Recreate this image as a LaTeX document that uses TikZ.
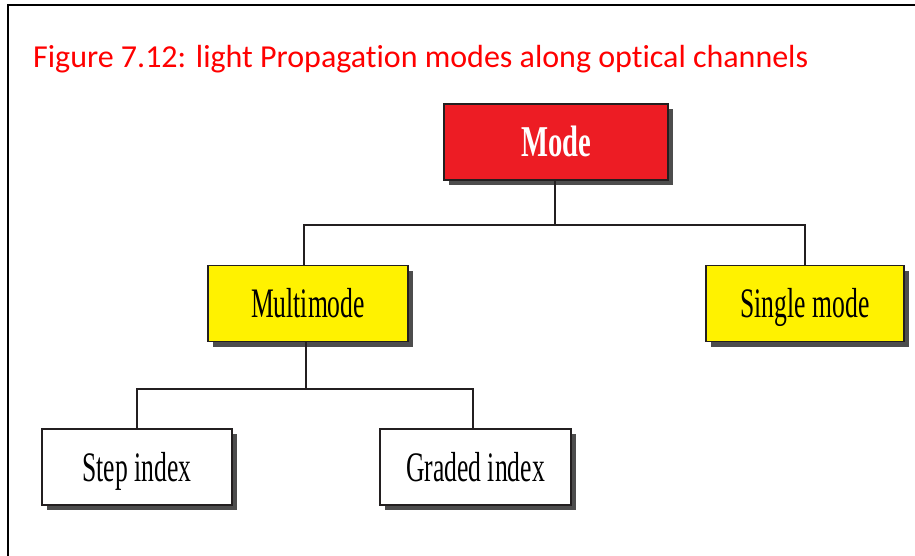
\documentclass[tikz,border=0pt]{standalone}
\usepackage{fontspec}
\setmainfont{Liberation Serif}
\newfontfamily\captionfont[Ligatures={NoCommon}]{Carlito}
\usetikzlibrary{shadows}

\definecolor{modered}{HTML}{ED1C24}
\definecolor{modeyellow}{HTML}{FFF200}
\definecolor{inkline}{HTML}{231F20}
\definecolor{shadowgray}{HTML}{4D4D4D}
\definecolor{captionred}{HTML}{FF0000}

\tikzset{
  treebox/.style={draw=inkline, line width=1.6pt, minimum height=76pt,
    inner sep=0pt, text height=28pt, text depth=0pt,
    font=\fontsize{42}{46}\selectfont,
    drop shadow={shadow xshift=5pt, shadow yshift=-5pt, fill=shadowgray, opacity=1}},
  topbox/.style={treebox, fill=modered, text=white, text height=29pt,
    font=\fontsize{44}{48}\selectfont\bfseries},
  midbox/.style={treebox, fill=modeyellow},
  leafbox/.style={treebox, fill=white},
  link/.style={draw=inkline, line width=2pt}
}
\newcommand{\narrow}[2][0.61]{\scalebox{#1}[1]{#2}}

\begin{document}
\begin{tikzpicture}[x=1pt, y=-1pt]
  \useasboundingbox (0,0) rectangle (915,556);
  \fill[white] (0,0) rectangle (915,556);

  % page frame (open on the right and bottom)
  \draw[black, line width=2pt] (8,556) -- (8,5.5) -- (915,5.5);

  % caption
  \node[anchor=base west, inner sep=0pt, text=captionred,
        font=\captionfont\fontsize{32}{37}\selectfont] (caption) at (33,68)
    {Figure 7.12: light Propagation modes along optical channels};

  % tree of modes
  \node[topbox, minimum width=224pt] (mode) at (556,142) {\narrow[0.65]{Mode}};
  \node[midbox, minimum width=200pt] (multi) at (308,303.5) {\narrow{Multimode}};
  \node[midbox, minimum width=198pt] (single) at (805,303.5) {\narrow{Single mode}};
  \node[leafbox, minimum width=190pt] (step) at (137,467) {\narrow{Step index}};
  \node[leafbox, minimum width=191pt] (graded) at (475.5,467) {\narrow{Graded index}};

  % junction points of the connectors
  \coordinate (j1) at (555,225);
  \coordinate (j2) at (306,389);

  \draw[link] (mode.south -| j1) -- (j1);
  \draw[link] (j1) -| (multi.north -| 304,0);
  \draw[link] (j1) -| (single.north);
  \draw[link] (multi.south -| j2) -- (j2);
  \draw[link] (j2) -| (step.north);
  \draw[link] (j2) -| (graded.north -| 473,0);
\end{tikzpicture}
\end{document}
